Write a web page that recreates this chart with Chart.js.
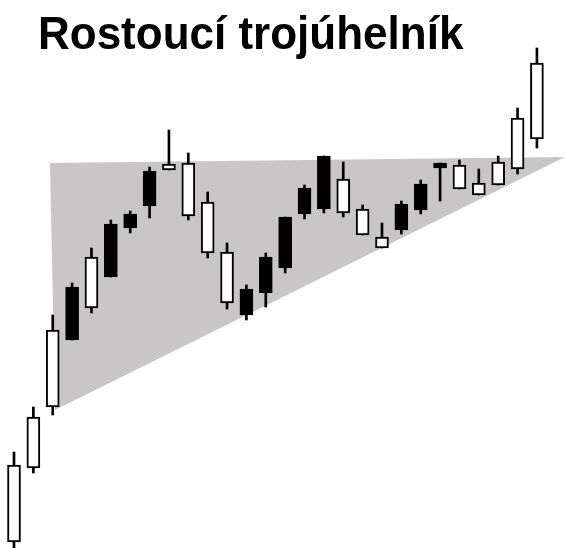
<!DOCTYPE html>
<html>
<head>
<meta charset="utf-8">
<title>Rostoucí trojúhelník</title>
<script src="https://cdn.jsdelivr.net/npm/chart.js@4.4.1/dist/chart.umd.min.js"></script>
<style>
    body { margin: 0; background: #ffffff; }
    #wrap { width: 565px; height: 548px; position: relative; }
</style>
</head>
<body>
<div id="wrap"><canvas id="myChart"></canvas></div>
<script>
// Candle data (index, open, high, low, close)
var days = [1, 2, 3, 4, 5, 6, 7, 8, 9, 10, 11, 12, 13, 14, 15, 16, 17, 18, 19, 20, 21, 22, 23, 24, 25, 26, 27, 28];
var opens = [1.5, 20, 35.25, 65.25, 60, 81, 83.5, 94.25, 94.5, 83, 73.75, 61.25, 64.75, 72.75, 82.75, 90, 98, 83.75, 78.25, 75, 86, 91, 96.25, 89.75, 88.25, 90.75, 94.75, 102.25];
var highs = [24, 35.25, 58.25, 66.25, 75, 82, 84.25, 95.25, 104.5, 98.75, 89, 76.25, 65.75, 73.75, 82.75, 90.75, 98, 96.5, 85.75, 81.25, 86.75, 92, 96.25, 97, 94.75, 98, 110, 125];
var lows = [0, 18.75, 33.25, 52, 58.75, 67.75, 78.75, 82.5, 94.5, 82, 72.5, 59.75, 57, 60.25, 68.75, 82.25, 83.75, 82.75, 78.25, 75, 78.5, 83.5, 86.75, 89.75, 88.25, 90.75, 93.5, 100];
var closes = [20.75, 32.75, 54.5, 52, 72.75, 67.75, 80, 85.5, 96, 96.25, 86.5, 74, 58.25, 63.75, 70, 83.5, 84.75, 92.25, 84.75, 77.75, 79.5, 84.5, 95, 95.75, 91.25, 96.5, 107.5, 121.25];

// Triangle corners (x in candle index, y in price)
var triangleX = [2.86, 29.45, 3.12, 2.86];
var triangleY = [96.25, 97.75, 34.5, 96.25];

var titleText = "Rostoucí trojúhelník";

var bodies = [];
var wicks = [];
var bodyColors = [];
for (var i = 0; i < days.length; i++) {
    bodies.push({ x: days[i], y: [opens[i], closes[i]] });
    wicks.push({ x: days[i], y: [lows[i], highs[i]] });
    // up candles are white, down candles black
    bodyColors.push(closes[i] >= opens[i] ? "#ffffff" : "#000000");
}

var triangle = [];
for (var t = 0; t < triangleX.length; t++) {
    triangle.push({ x: triangleX[t], y: triangleY[t] });
}

// draws the heading over the chart area
var titlePlugin = {
    id: "bigTitle",
    afterDraw: function (chart) {
        var ctx = chart.ctx;
        ctx.save();
        ctx.translate(38, 49);
        ctx.scale(1, 1.05); // the heading is a bit taller than the plain font
        ctx.font = 'bold 44px "Liberation Sans", Arial, sans-serif';
        ctx.fillStyle = "#000000";
        ctx.textBaseline = "alphabetic";
        ctx.textAlign = "left";
        ctx.fillText(titleText, 0, 0);
        ctx.restore();
    }
};

new Chart("myChart", {
    type: "bar",
    data: {
        datasets: [{
            label: "body",
            data: bodies,
            backgroundColor: bodyColors,
            borderColor: "#000000",
            borderWidth: 2,
            borderSkipped: false,
            barThickness: 13,
            order: 0
        }, {
            label: "wick",
            data: wicks,
            backgroundColor: "#000000",
            borderWidth: 0,
            barThickness: 2,
            grouped: false,
            order: 1
        }, {
            type: "line",
            label: "triangle",
            data: triangle,
            backgroundColor: "rgb(200, 198, 198)",
            borderWidth: 0,
            pointRadius: 0,
            fill: "shape",
            tension: 0,
            order: 2
        }]
    },
    options: {
        responsive: true,
        maintainAspectRatio: false,
        animation: false,
        layout: { padding: 0 },
        plugins: {
            legend: { display: false },
            tooltip: { enabled: false },
            title: { display: false }
        },
        scales: {
            x: { type: "linear", min: 0.277, max: 29.45, offset: false, display: false },
            y: { min: 0, max: 137, display: false }
        }
    },
    plugins: [titlePlugin]
});
</script>
</body>
</html>
